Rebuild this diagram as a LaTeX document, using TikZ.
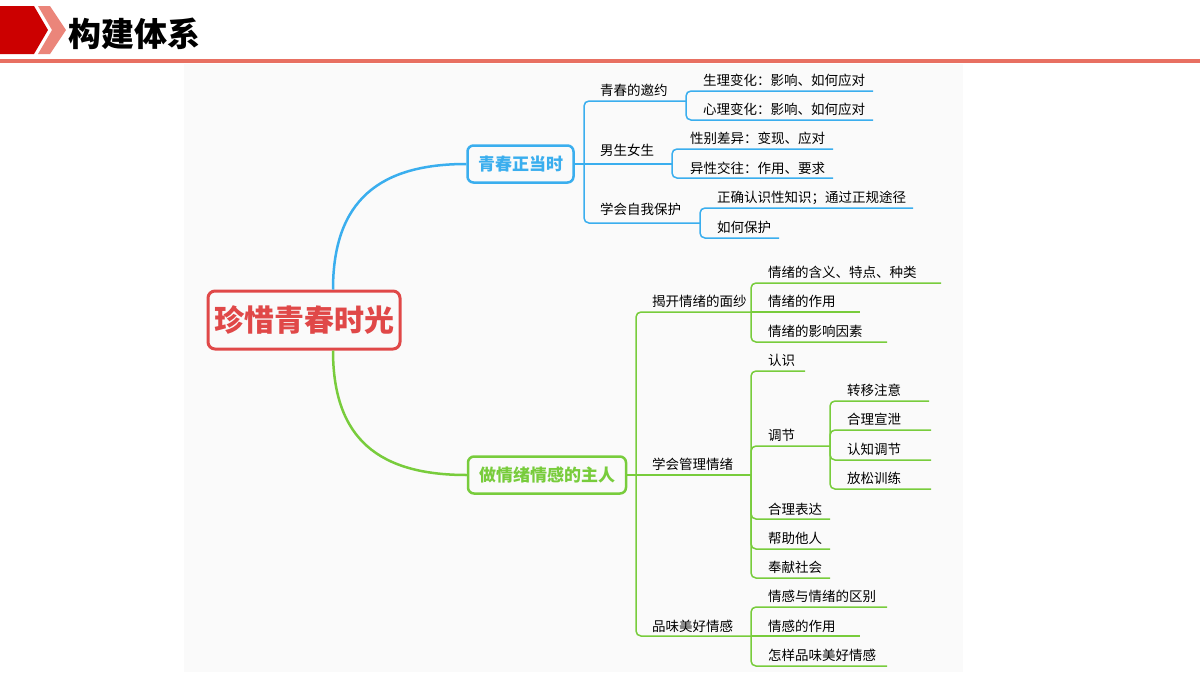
\documentclass[tikz,border=0pt]{standalone}
\usepackage{fontspec}
\newfontfamily\cjk{Noto Sans CJK SC}
\definecolor{bl}{HTML}{3AAEEE}
\definecolor{gr}{HTML}{78CC3C}
\definecolor{rd}{HTML}{E04848}
\definecolor{hd}{HTML}{E87062}
\begin{document}
\begin{tikzpicture}[x=1pt,y=-1pt,
  lbl/.style={anchor=base west,font=\cjk\fontsize{13.5}{13.5}\selectfont,inner sep=0pt},
  bline/.style={draw=bl,line width=1.5pt,rounded corners=5pt},
  gline/.style={draw=gr,line width=1.5pt,rounded corners=5pt}]
\useasboundingbox (0,0) rectangle (1200,675);
\fill[white] (0,0) rectangle (1200,675);
% header
\fill[hd!85] (38,6) -- (50,6) -- (66,30) -- (50,54) -- (38,54) -- (52,30) -- cycle;
\fill[red!80!black] (0,6) -- (34,6) -- (48,30) -- (34,54) -- (0,54) -- cycle;
\node[anchor=west,font=\cjk\bfseries\fontsize{33}{33}\selectfont,inner sep=0pt] (title) at (68,34) {构建体系};
\fill[hd] (0,59) rectangle (1200,63);
\fill[black!2] (184,64) rectangle (963,672);
% root and main
\node[draw=rd,line width=3pt,rounded corners=7pt,minimum width=192pt,minimum height=58pt,text=rd,font=\cjk\bfseries\fontsize{30}{30}\selectfont] (root) at (304,320) {珍惜青春时光};
\node[draw=bl,line width=2.5pt,rounded corners=6pt,minimum width=106pt,minimum height=37pt,text=bl,font=\cjk\bfseries\fontsize{17}{17}\selectfont] (b1) at (520.5,164) {青春正当时};
\node[draw=gr,line width=2.5pt,rounded corners=6pt,minimum width=158pt,minimum height=37pt,text=gr,font=\cjk\bfseries\fontsize{17}{17}\selectfont] (g1) at (547,475) {做情绪情感的主人};
\draw[bl,line width=2.5pt] (root.north -| 333,0) .. controls (333,200) and (380,164) .. (b1.west);
\draw[gr,line width=2.5pt] (root.south -| 333,0) .. controls (333,440) and (380,475) .. (g1.west);
% blue branch
\draw[bline] (b1.east) -- (672,164);
\draw[bline] (584,164) |- (686,101);
\draw[bline] (584,164) |- (700,223);
\node[lbl] (a1) at (600,101-6) {青春的邀约};
\node[lbl] (a2) at (600,164-9) {男生女生};
\node[lbl] (a3) at (600,223-9) {学会自我保护};
\draw[bline] (686,101) |- (873,91); \draw[bline] (686,101) |- (873,120);
\node[lbl] at (703,85) {生理变化：影响、如何应对};
\node[lbl] at (703,114) {心理变化：影响、如何应对};
\draw[bline] (672,164) |- (833,149); \draw[bline] (672,164) |- (833,178);
\node[lbl] at (690,143) {性别差异：变现、应对};
\node[lbl] at (690,173) {异性交往：作用、要求};
\draw[bline] (700,223) |- (913,208); \draw[bline] (700,223) |- (779,238);
\node[lbl] at (717,202) {正确认识性知识；通过正规途径};
\node[lbl] at (717,232) {如何保护};
% green branch
\draw[gline] (g1.east) -- (751,475);
\draw[gline] (636,475) |- (751,312);
\draw[gline] (636,475) |- (751,636);
\node[lbl] at (652,306) {揭开情绪的面纱};
\node[lbl] at (652,469) {学会管理情绪};
\node[lbl] at (652,631) {品味美好情感};
\draw[gline] (751,312) |- (941,283); \draw[gline] (751,312) -- (860,312); \draw[gline] (751,312) |- (887,342);
\node[lbl] at (768,277) {情绪的含义、特点、种类};
\node[lbl] at (768,306) {情绪的作用};
\node[lbl] at (768,336) {情绪的影响因素};
\draw[gline] (751,475) |- (805,371);
\draw[gline] (751,475) |- (830,446);
\draw[gline] (751,475) |- (830,519);
\draw[gline] (751,475) |- (830,549);
\draw[gline] (751,475) |- (830,578);
\node[lbl] at (768,365) {认识};
\node[lbl] at (768,440) {调节};
\node[lbl] at (768,514) {合理表达};
\node[lbl] at (768,543) {帮助他人};
\node[lbl] at (768,572) {奉献社会};
\draw[gline] (830,446) |- (929,401); \draw[gline] (830,446) |- (931,430);
\draw[gline] (830,446) |- (931,460); \draw[gline] (830,446) |- (931,489);
\node[lbl] at (847,395) {转移注意};
\node[lbl] at (847,424) {合理宣泄};
\node[lbl] at (847,454) {认知调节};
\node[lbl] at (847,483) {放松训练};
\draw[gline] (751,636) |- (887,607); \draw[gline] (751,636) -- (860,636); \draw[gline] (751,636) |- (887,666);
\node[lbl] at (768,601) {情感与情绪的区别};
\node[lbl] at (768,631) {情感的作用};
\node[lbl] at (768,660) {怎样品味美好情感};
\end{tikzpicture}
\end{document}
